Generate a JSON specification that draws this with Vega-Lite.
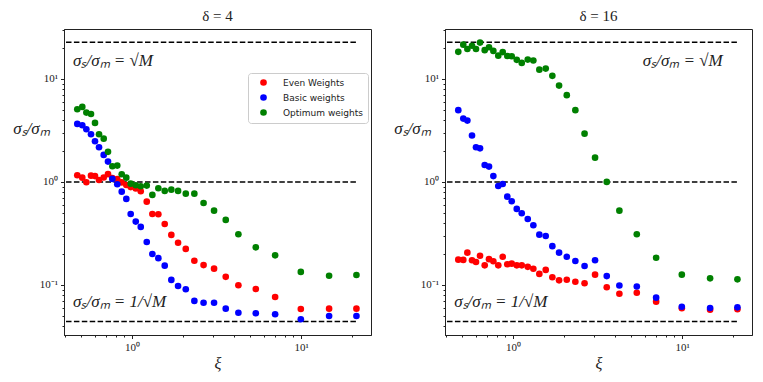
{
  "$schema": "https://vega.github.io/schema/vega-lite/v6.json",
  "padding": {"left": 12, "top": 8, "right": 5, "bottom": 5},
  "spacing": 21,
  "config": {
    "view": {"stroke": "#222", "strokeWidth": 1},
    "axis": {"grid": false, "domainColor": "#222", "tickColor": "#222", "labelColor": "#222", "labelFont": "Liberation Serif", "labelFontSize": 11, "titleFont": "Liberation Serif", "titleFontWeight": "normal", "titleColor": "#222"},
    "title": {"font": "Liberation Serif", "fontSize": 15, "fontWeight": "normal", "color": "#222"}
  },
  "resolve": {"legend": {"color": "independent"}},
  "datasets": {
    "ref": [
      {"x0": 0.407, "x1": 21.2, "level": 22.63},
      {"x0": 0.407, "x1": 21.2, "level": 1},
      {"x0": 0.407, "x1": 21.2, "level": 0.0442}
    ],
    "pts": [
      {"d":4,"s":"Even Weights","x":0.4745,"y":1.16},{"d":4,"s":"Even Weights","x":0.508,"y":1.10},{"d":4,"s":"Even Weights","x":0.537,"y":0.993},{"d":4,"s":"Even Weights","x":0.572,"y":1.15},{"d":4,"s":"Even Weights","x":0.604,"y":1.14},{"d":4,"s":"Even Weights","x":0.638,"y":1.045},{"d":4,"s":"Even Weights","x":0.680,"y":1.105},{"d":4,"s":"Even Weights","x":0.721,"y":1.19},{"d":4,"s":"Even Weights","x":0.765,"y":1.09},{"d":4,"s":"Even Weights","x":0.818,"y":1.064},{"d":4,"s":"Even Weights","x":0.869,"y":0.989},{"d":4,"s":"Even Weights","x":0.925,"y":0.935},{"d":4,"s":"Even Weights","x":0.982,"y":0.891},{"d":4,"s":"Even Weights","x":1.052,"y":0.865},{"d":4,"s":"Even Weights","x":1.126,"y":0.812},{"d":4,"s":"Even Weights","x":1.222,"y":0.644},{"d":4,"s":"Even Weights","x":1.319,"y":0.489},{"d":4,"s":"Even Weights","x":1.431,"y":0.486},{"d":4,"s":"Even Weights","x":1.561,"y":0.391},{"d":4,"s":"Even Weights","x":1.708,"y":0.306},{"d":4,"s":"Even Weights","x":1.872,"y":0.257},{"d":4,"s":"Even Weights","x":2.079,"y":0.224},{"d":4,"s":"Even Weights","x":2.337,"y":0.172},{"d":4,"s":"Even Weights","x":2.649,"y":0.156},{"d":4,"s":"Even Weights","x":3.056,"y":0.144},{"d":4,"s":"Even Weights","x":3.583,"y":0.120},{"d":4,"s":"Even Weights","x":4.256,"y":0.0993},{"d":4,"s":"Even Weights","x":5.395,"y":0.0914},{"d":4,"s":"Even Weights","x":7.02,"y":0.0764},{"d":4,"s":"Even Weights","x":9.96,"y":0.0585},{"d":4,"s":"Even Weights","x":14.64,"y":0.0589},{"d":4,"s":"Even Weights","x":21.24,"y":0.0589},
      {"d":4,"s":"Basic weights","x":0.4745,"y":3.66},{"d":4,"s":"Basic weights","x":0.508,"y":3.55},{"d":4,"s":"Basic weights","x":0.537,"y":3.25},{"d":4,"s":"Basic weights","x":0.572,"y":2.90},{"d":4,"s":"Basic weights","x":0.604,"y":2.48},{"d":4,"s":"Basic weights","x":0.638,"y":2.17},{"d":4,"s":"Basic weights","x":0.680,"y":1.83},{"d":4,"s":"Basic weights","x":0.721,"y":1.575},{"d":4,"s":"Basic weights","x":0.765,"y":1.07},{"d":4,"s":"Basic weights","x":0.818,"y":0.95},{"d":4,"s":"Basic weights","x":0.869,"y":0.805},{"d":4,"s":"Basic weights","x":0.925,"y":0.684},{"d":4,"s":"Basic weights","x":0.982,"y":0.489},{"d":4,"s":"Basic weights","x":1.052,"y":0.412},{"d":4,"s":"Basic weights","x":1.126,"y":0.366},{"d":4,"s":"Basic weights","x":1.222,"y":0.261},{"d":4,"s":"Basic weights","x":1.319,"y":0.200},{"d":4,"s":"Basic weights","x":1.431,"y":0.182},{"d":4,"s":"Basic weights","x":1.561,"y":0.154},{"d":4,"s":"Basic weights","x":1.708,"y":0.112},{"d":4,"s":"Basic weights","x":1.872,"y":0.0978},{"d":4,"s":"Basic weights","x":2.079,"y":0.0908},{"d":4,"s":"Basic weights","x":2.337,"y":0.070},{"d":4,"s":"Basic weights","x":2.649,"y":0.0673},{"d":4,"s":"Basic weights","x":3.056,"y":0.0673},{"d":4,"s":"Basic weights","x":3.583,"y":0.0589},{"d":4,"s":"Basic weights","x":4.256,"y":0.0538},{"d":4,"s":"Basic weights","x":5.395,"y":0.0531},{"d":4,"s":"Basic weights","x":7.02,"y":0.052},{"d":4,"s":"Basic weights","x":9.96,"y":0.0465},{"d":4,"s":"Basic weights","x":14.64,"y":0.050},{"d":4,"s":"Basic weights","x":21.24,"y":0.050},
      {"d":4,"s":"Optimum weights","x":0.4745,"y":5.08},{"d":4,"s":"Optimum weights","x":0.508,"y":5.35},{"d":4,"s":"Optimum weights","x":0.537,"y":4.71},{"d":4,"s":"Optimum weights","x":0.572,"y":4.57},{"d":4,"s":"Optimum weights","x":0.604,"y":3.74},{"d":4,"s":"Optimum weights","x":0.638,"y":2.90},{"d":4,"s":"Optimum weights","x":0.680,"y":2.63},{"d":4,"s":"Optimum weights","x":0.721,"y":1.96},{"d":4,"s":"Optimum weights","x":0.765,"y":1.42},{"d":4,"s":"Optimum weights","x":0.818,"y":1.44},{"d":4,"s":"Optimum weights","x":0.869,"y":1.188},{"d":4,"s":"Optimum weights","x":0.925,"y":1.10},{"d":4,"s":"Optimum weights","x":0.982,"y":0.963},{"d":4,"s":"Optimum weights","x":1.052,"y":0.929},{"d":4,"s":"Optimum weights","x":1.126,"y":0.908},{"d":4,"s":"Optimum weights","x":1.222,"y":0.921},{"d":4,"s":"Optimum weights","x":1.319,"y":0.748},{"d":4,"s":"Optimum weights","x":1.431,"y":0.869},{"d":4,"s":"Optimum weights","x":1.561,"y":0.818},{"d":4,"s":"Optimum weights","x":1.708,"y":0.842},{"d":4,"s":"Optimum weights","x":1.872,"y":0.818},{"d":4,"s":"Optimum weights","x":2.079,"y":0.770},{"d":4,"s":"Optimum weights","x":2.337,"y":0.770},{"d":4,"s":"Optimum weights","x":2.649,"y":0.625},{"d":4,"s":"Optimum weights","x":3.056,"y":0.526},{"d":4,"s":"Optimum weights","x":3.583,"y":0.428},{"d":4,"s":"Optimum weights","x":4.256,"y":0.311},{"d":4,"s":"Optimum weights","x":5.395,"y":0.232},{"d":4,"s":"Optimum weights","x":7.02,"y":0.194},{"d":4,"s":"Optimum weights","x":9.96,"y":0.134},{"d":4,"s":"Optimum weights","x":14.64,"y":0.123},{"d":4,"s":"Optimum weights","x":21.24,"y":0.125},
      {"d":16,"s":"Even Weights","x":0.4745,"y":0.176},{"d":16,"s":"Even Weights","x":0.508,"y":0.175},{"d":16,"s":"Even Weights","x":0.537,"y":0.206},{"d":16,"s":"Even Weights","x":0.572,"y":0.174},{"d":16,"s":"Even Weights","x":0.604,"y":0.167},{"d":16,"s":"Even Weights","x":0.638,"y":0.192},{"d":16,"s":"Even Weights","x":0.680,"y":0.155},{"d":16,"s":"Even Weights","x":0.721,"y":0.178},{"d":16,"s":"Even Weights","x":0.765,"y":0.170},{"d":16,"s":"Even Weights","x":0.818,"y":0.155},{"d":16,"s":"Even Weights","x":0.869,"y":0.188},{"d":16,"s":"Even Weights","x":0.925,"y":0.159},{"d":16,"s":"Even Weights","x":0.982,"y":0.161},{"d":16,"s":"Even Weights","x":1.052,"y":0.155},{"d":16,"s":"Even Weights","x":1.126,"y":0.155},{"d":16,"s":"Even Weights","x":1.222,"y":0.150},{"d":16,"s":"Even Weights","x":1.319,"y":0.1436},{"d":16,"s":"Even Weights","x":1.431,"y":0.128},{"d":16,"s":"Even Weights","x":1.561,"y":0.140},{"d":16,"s":"Even Weights","x":1.708,"y":0.119},{"d":16,"s":"Even Weights","x":1.872,"y":0.111},{"d":16,"s":"Even Weights","x":2.079,"y":0.1125},{"d":16,"s":"Even Weights","x":2.337,"y":0.1076},{"d":16,"s":"Even Weights","x":2.649,"y":0.104},{"d":16,"s":"Even Weights","x":3.056,"y":0.126},{"d":16,"s":"Even Weights","x":3.583,"y":0.095},{"d":16,"s":"Even Weights","x":4.256,"y":0.0822},{"d":16,"s":"Even Weights","x":5.395,"y":0.0840},{"d":16,"s":"Even Weights","x":7.02,"y":0.0689},{"d":16,"s":"Even Weights","x":9.96,"y":0.0594},{"d":16,"s":"Even Weights","x":14.64,"y":0.0576},{"d":16,"s":"Even Weights","x":21.24,"y":0.0581},
      {"d":16,"s":"Basic weights","x":0.4745,"y":4.97},{"d":16,"s":"Basic weights","x":0.508,"y":4.12},{"d":16,"s":"Basic weights","x":0.537,"y":3.94},{"d":16,"s":"Basic weights","x":0.572,"y":2.82},{"d":16,"s":"Basic weights","x":0.604,"y":2.17},{"d":16,"s":"Basic weights","x":0.638,"y":2.12},{"d":16,"s":"Basic weights","x":0.680,"y":1.46},{"d":16,"s":"Basic weights","x":0.721,"y":1.41},{"d":16,"s":"Basic weights","x":0.765,"y":1.14},{"d":16,"s":"Basic weights","x":0.818,"y":0.914},{"d":16,"s":"Basic weights","x":0.869,"y":0.956},{"d":16,"s":"Basic weights","x":0.925,"y":0.72},{"d":16,"s":"Basic weights","x":0.982,"y":0.65},{"d":16,"s":"Basic weights","x":1.052,"y":0.547},{"d":16,"s":"Basic weights","x":1.126,"y":0.497},{"d":16,"s":"Basic weights","x":1.222,"y":0.437},{"d":16,"s":"Basic weights","x":1.319,"y":0.38},{"d":16,"s":"Basic weights","x":1.431,"y":0.308},{"d":16,"s":"Basic weights","x":1.561,"y":0.299},{"d":16,"s":"Basic weights","x":1.708,"y":0.238},{"d":16,"s":"Basic weights","x":1.872,"y":0.206},{"d":16,"s":"Basic weights","x":2.079,"y":0.188},{"d":16,"s":"Basic weights","x":2.337,"y":0.171},{"d":16,"s":"Basic weights","x":2.649,"y":0.153},{"d":16,"s":"Basic weights","x":3.056,"y":0.174},{"d":16,"s":"Basic weights","x":3.583,"y":0.122},{"d":16,"s":"Basic weights","x":4.256,"y":0.0989},{"d":16,"s":"Basic weights","x":5.395,"y":0.0967},{"d":16,"s":"Basic weights","x":7.02,"y":0.0753},{"d":16,"s":"Basic weights","x":9.96,"y":0.0615},{"d":16,"s":"Basic weights","x":14.64,"y":0.0598},{"d":16,"s":"Basic weights","x":21.24,"y":0.0607},
      {"d":16,"s":"Optimum weights","x":0.4745,"y":18.3},{"d":16,"s":"Optimum weights","x":0.508,"y":21.5},{"d":16,"s":"Optimum weights","x":0.537,"y":19.5},{"d":16,"s":"Optimum weights","x":0.572,"y":21.0},{"d":16,"s":"Optimum weights","x":0.604,"y":19.5},{"d":16,"s":"Optimum weights","x":0.638,"y":22.5},{"d":16,"s":"Optimum weights","x":0.680,"y":19.0},{"d":16,"s":"Optimum weights","x":0.721,"y":20.3},{"d":16,"s":"Optimum weights","x":0.765,"y":18.7},{"d":16,"s":"Optimum weights","x":0.818,"y":16.8},{"d":16,"s":"Optimum weights","x":0.869,"y":18.2},{"d":16,"s":"Optimum weights","x":0.925,"y":16.7},{"d":16,"s":"Optimum weights","x":0.982,"y":16.6},{"d":16,"s":"Optimum weights","x":1.052,"y":15.3},{"d":16,"s":"Optimum weights","x":1.126,"y":14.3},{"d":16,"s":"Optimum weights","x":1.222,"y":15.4},{"d":16,"s":"Optimum weights","x":1.319,"y":15.1},{"d":16,"s":"Optimum weights","x":1.431,"y":12.3},{"d":16,"s":"Optimum weights","x":1.561,"y":12.6},{"d":16,"s":"Optimum weights","x":1.708,"y":10.7},{"d":16,"s":"Optimum weights","x":1.872,"y":8.61},{"d":16,"s":"Optimum weights","x":2.079,"y":6.95},{"d":16,"s":"Optimum weights","x":2.337,"y":4.97},{"d":16,"s":"Optimum weights","x":2.649,"y":2.94},{"d":16,"s":"Optimum weights","x":3.056,"y":1.72},{"d":16,"s":"Optimum weights","x":3.583,"y":1.0},{"d":16,"s":"Optimum weights","x":4.256,"y":0.526},{"d":16,"s":"Optimum weights","x":5.395,"y":0.311},{"d":16,"s":"Optimum weights","x":7.02,"y":0.184},{"d":16,"s":"Optimum weights","x":9.96,"y":0.126},{"d":16,"s":"Optimum weights","x":14.64,"y":0.116},{"d":16,"s":"Optimum weights","x":21.24,"y":0.1135}
    ]
  },
  "hconcat": [
    {
      "width": 307, "height": 306,
      "title": {"text": "δ = 4", "offset": 5},
      "layer": [
        {
          "data": {"name": "ref"},
          "mark": {"type": "rule", "strokeDash": [5.5, 2.4], "strokeWidth": 1.5, "color": "black"},
          "encoding": {
            "x": {"field": "x0", "type": "quantitative", "scale": {"type": "log", "domain": [0.396, 25.9], "nice": false, "zero": false},
              "axis": {"title": "ξ", "titleFontSize": 16, "titleFontStyle": "italic", "titlePadding": 3, "labelPadding": 3,
                "values": [0.4,0.5,0.6,0.7,0.8,0.9,1,2,3,4,5,6,7,8,9,10,20],
                "labelExpr": "datum.value == 1 ? '10⁰' : datum.value == 10 ? '10¹' : ''",
                "tickSize": {"condition": {"test": "datum.value == 1 || datum.value == 10", "value": 3.5}, "value": 2}}},
            "x2": {"field": "x1"},
            "y": {"field": "level", "type": "quantitative", "scale": {"type": "log", "domain": [0.0327, 30.5], "nice": false, "zero": false},
              "axis": {"title": "σₛ/σₘ", "titleAngle": 0, "titleX": -33, "titleY": 99, "titleAlign": "center", "titleBaseline": "middle", "titleFontSize": 17, "titleFontStyle": "italic", "labelPadding": 3,
                "values": [0.04,0.05,0.06,0.07,0.08,0.09,0.1,0.2,0.3,0.4,0.5,0.6,0.7,0.8,0.9,1,2,3,4,5,6,7,8,9,10,20,30],
                "labelExpr": "datum.value == 0.1 ? '10⁻¹' : datum.value == 1 ? '10⁰' : datum.value == 10 ? '10¹' : ''",
                "tickSize": {"condition": {"test": "datum.value == 0.1 || datum.value == 1 || datum.value == 10", "value": 3.5}, "value": 2}}}
          }
        },
        {
          "data": {"name": "pts"},
          "transform": [{"filter": "datum.d == 4"}],
          "mark": {"type": "circle", "size": 44, "opacity": 1},
          "encoding": {
            "x": {"field": "x", "type": "quantitative"},
            "y": {"field": "y", "type": "quantitative"},
            "color": {"field": "s", "type": "nominal", "sort": null,
              "scale": {"domain": ["Even Weights", "Basic weights", "Optimum weights"], "range": ["#ff0000", "#0000ff", "#008000"]},
              "legend": {"orient": "none", "legendX": 184, "legendY": 44, "title": null, "labelFont": "DejaVu Sans", "labelFontSize": 9, "labelColor": "#222",
                "symbolType": "circle", "symbolSize": 44, "symbolStrokeWidth": 0, "symbolOpacity": 1, "strokeColor": "#cccccc", "fillColor": "white", "padding": 5, "cornerRadius": 3, "rowPadding": 5, "labelOffset": 15, "symbolOffset": 6}}
          }
        },
        {
          "data": {"values": [{}]},
          "mark": {"type": "text", "align": "left", "baseline": "middle", "font": "Liberation Serif", "fontSize": 17, "fontStyle": "italic", "color": "#222", "text": "σₛ/σₘ = √M"},
          "encoding": {"x": {"datum": 0.448, "type": "quantitative"}, "y": {"datum": 14.9, "type": "quantitative"}}
        },
        {
          "data": {"values": [{}]},
          "mark": {"type": "text", "align": "left", "baseline": "middle", "font": "Liberation Serif", "fontSize": 17, "fontStyle": "italic", "color": "#222", "text": "σₛ/σₘ = 1/√M"},
          "encoding": {"x": {"datum": 0.448, "type": "quantitative"}, "y": {"datum": 0.069, "type": "quantitative"}}
        }
      ]
    },
    {
      "width": 307, "height": 306,
      "title": {"text": "δ = 16", "offset": 5},
      "layer": [
        {
          "data": {"name": "ref"},
          "mark": {"type": "rule", "strokeDash": [5.5, 2.4], "strokeWidth": 1.5, "color": "black"},
          "encoding": {
            "x": {"field": "x0", "type": "quantitative", "scale": {"type": "log", "domain": [0.396, 25.9], "nice": false, "zero": false},
              "axis": {"title": "ξ", "titleFontSize": 16, "titleFontStyle": "italic", "titlePadding": 3, "labelPadding": 3,
                "values": [0.4,0.5,0.6,0.7,0.8,0.9,1,2,3,4,5,6,7,8,9,10,20],
                "labelExpr": "datum.value == 1 ? '10⁰' : datum.value == 10 ? '10¹' : ''",
                "tickSize": {"condition": {"test": "datum.value == 1 || datum.value == 10", "value": 3.5}, "value": 2}}},
            "x2": {"field": "x1"},
            "y": {"field": "level", "type": "quantitative", "scale": {"type": "log", "domain": [0.0327, 30.5], "nice": false, "zero": false},
              "axis": {"title": "σₛ/σₘ", "titleAngle": 0, "titleX": -33, "titleY": 99, "titleAlign": "center", "titleBaseline": "middle", "titleFontSize": 17, "titleFontStyle": "italic", "labelPadding": 3,
                "values": [0.04,0.05,0.06,0.07,0.08,0.09,0.1,0.2,0.3,0.4,0.5,0.6,0.7,0.8,0.9,1,2,3,4,5,6,7,8,9,10,20,30],
                "labelExpr": "datum.value == 0.1 ? '10⁻¹' : datum.value == 1 ? '10⁰' : datum.value == 10 ? '10¹' : ''",
                "tickSize": {"condition": {"test": "datum.value == 0.1 || datum.value == 1 || datum.value == 10", "value": 3.5}, "value": 2}}}
          }
        },
        {
          "data": {"name": "pts"},
          "transform": [{"filter": "datum.d == 16"}],
          "mark": {"type": "circle", "size": 44, "opacity": 1},
          "encoding": {
            "x": {"field": "x", "type": "quantitative"},
            "y": {"field": "y", "type": "quantitative"},
            "color": {"field": "s", "type": "nominal", "sort": null,
              "scale": {"domain": ["Even Weights", "Basic weights", "Optimum weights"], "range": ["#ff0000", "#0000ff", "#008000"]},
              "legend": null}
          }
        },
        {
          "data": {"values": [{}]},
          "mark": {"type": "text", "align": "right", "baseline": "middle", "font": "Liberation Serif", "fontSize": 17, "fontStyle": "italic", "color": "#222", "text": "σₛ/σₘ = √M"},
          "encoding": {"x": {"datum": 17.4, "type": "quantitative"}, "y": {"datum": 14.8, "type": "quantitative"}}
        },
        {
          "data": {"values": [{}]},
          "mark": {"type": "text", "align": "left", "baseline": "middle", "font": "Liberation Serif", "fontSize": 17, "fontStyle": "italic", "color": "#222", "text": "σₛ/σₘ = 1/√M"},
          "encoding": {"x": {"datum": 0.449, "type": "quantitative"}, "y": {"datum": 0.069, "type": "quantitative"}}
        }
      ]
    }
  ]
}
